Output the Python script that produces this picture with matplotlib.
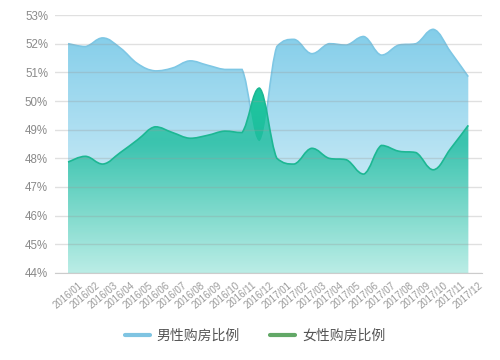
import numpy as np
import matplotlib
matplotlib.use("Agg")
import matplotlib.pyplot as plt
from matplotlib.path import Path
from matplotlib.patches import PathPatch
from matplotlib.lines import Line2D

plt.rcParams['font.family'] = ['Liberation Sans', 'Noto Sans CJK SC', 'DejaVu Sans']

months = ['2016/01', '2016/02', '2016/03', '2016/04', '2016/05', '2016/06',
          '2016/07', '2016/08', '2016/09', '2016/10', '2016/11', '2016/12',
          '2017/01', '2017/02', '2017/03', '2017/04', '2017/05', '2017/06',
          '2017/07', '2017/08', '2017/09', '2017/10', '2017/11', '2017/12']
male = [52.0, 51.9, 52.2, 51.85, 51.3, 51.05, 51.15, 51.4, 51.25, 51.1, 51.1, 48.6,
        51.9, 52.15, 51.65, 52.0, 51.95, 52.25, 51.6, 51.95, 52.0, 52.5, 51.7, 50.85]
female = [47.87, 48.07, 47.8, 48.2, 48.65, 49.1, 48.9, 48.7, 48.8, 48.95, 48.9, 50.45,
          48.0, 47.8, 48.35, 48.0, 47.95, 47.45, 48.45, 48.25, 48.2, 47.6, 48.35, 49.15]
yticks = [44, 45, 46, 47, 48, 49, 50, 51, 52, 53]
series_names = ['男性购房比例', '女性购房比例']

YMIN, YMAX = 44, 53


def smooth_verts(xs, ys, s=0.2):
    # bezier control points, clamped so curves don't overshoot (echarts-like)
    verts = [(xs[0], ys[0])]
    codes = [Path.MOVETO]
    n = len(xs)
    for i in range(n - 1):
        x0, y0 = xs[i], ys[i]
        x1, y1 = xs[i + 1], ys[i + 1]
        xp, yp = (xs[i - 1], ys[i - 1]) if i > 0 else (x0, y0)
        xn, yn = (xs[i + 2], ys[i + 2]) if i + 2 < n else (x1, y1)
        lo, hi = min(y0, y1), max(y0, y1)
        c1 = (x0 + (x1 - xp) * s, min(max(y0 + (y1 - yp) * s, lo), hi))
        c2 = (x1 - (xn - x0) * s, min(max(y1 - (yn - y0) * s, lo), hi))
        verts += [c1, c2, (x1, y1)]
        codes += [Path.CURVE4] * 3
    return verts, codes


def area_path(xs, ys):
    verts, codes = smooth_verts(xs, ys)
    verts += [(xs[-1], YMIN), (xs[0], YMIN), (xs[0], ys[0])]
    codes += [Path.LINETO, Path.LINETO, Path.CLOSEPOLY]
    return Path(verts, codes)


def ramp(stops, n=200):
    # stops: list of (y, rgb) ; returns image column from YMIN..top
    ys = np.linspace(YMIN, stops[-1][0], n)
    sy = [p[0] for p in stops]
    col = np.zeros((n, 1, 3))
    for k in range(3):
        col[:, 0, k] = np.interp(ys, sy, [p[1][k] / 255 for p in stops])
    return col


def grad_fill(ax, xs, ys, stops, zorder, alpha=1.0):
    patch = PathPatch(area_path(xs, ys), facecolor='none', edgecolor='none')
    ax.add_patch(patch)
    img = ax.imshow(ramp(stops), extent=[xs[0], xs[-1], YMIN, stops[-1][0]],
                    origin='lower', aspect='auto', interpolation='bilinear',
                    zorder=zorder, alpha=alpha)
    img.set_clip_path(patch)


fig = plt.figure(figsize=(5, 3.6), dpi=100)
ax = fig.add_axes([0.11, 0.2417, 0.854, 0.7166])

x = np.arange(len(months))
blue_stops = [(44, (235, 248, 253)), (52.6, (130, 205, 233))]
green_stops = [(44, (175, 235, 225)), (48.5, (30, 189, 159)), (50.6, (30, 200, 158))]

grad_fill(ax, x, male, blue_stops, zorder=0.5)
v, cd = smooth_verts(x, male)
ax.add_patch(PathPatch(Path(v, cd), facecolor='none', edgecolor='#7cc6e4', lw=1.2, zorder=0.55))
grad_fill(ax, x, female, green_stops, zorder=0.6)
# translucent blue over the green gives the teal tone below the male curve
grad_fill(ax, x, male, blue_stops, zorder=0.7, alpha=0.2)
v, cd = smooth_verts(x, female)
ax.add_patch(PathPatch(Path(v, cd), facecolor='none', edgecolor='#1db793', lw=1.2, zorder=3))

ax.set_xlim(-0.75, 23.79)
ax.set_ylim(YMIN, YMAX)
ax.set_yticks(yticks)
ax.set_yticklabels([f'{v}%' for v in yticks])
ax.set_xticks(x)
ax.set_xticklabels(months, rotation=40, ha='center')
ax.tick_params(axis='y', length=0, pad=5, labelsize=8.3, labelcolor='#8a8a8a')
ax.tick_params(axis='x', length=0, pad=5, labelsize=7, labelcolor='#9a9a9a')

ax.set_axisbelow(False)
ax.grid(axis='y', color='#999999', alpha=0.3, lw=1)
ax.grid(axis='x', visible=False)
for sp in ['top', 'right', 'left']:
    ax.spines[sp].set_visible(False)
ax.spines['bottom'].set_color('#cccccc')

handles = [Line2D([], [], color='#7fc4e2', lw=3, solid_capstyle='round'),
           Line2D([], [], color='#62a867', lw=3, solid_capstyle='round')]
fig.legend(handles, series_names, loc='center', bbox_to_anchor=(0.51, 0.067),
           ncol=2, frameon=False, fontsize=10, handlelength=1.8,
           handletextpad=0.5, columnspacing=2.2, labelcolor='#555555')

fig.savefig('out.png', dpi=100)
